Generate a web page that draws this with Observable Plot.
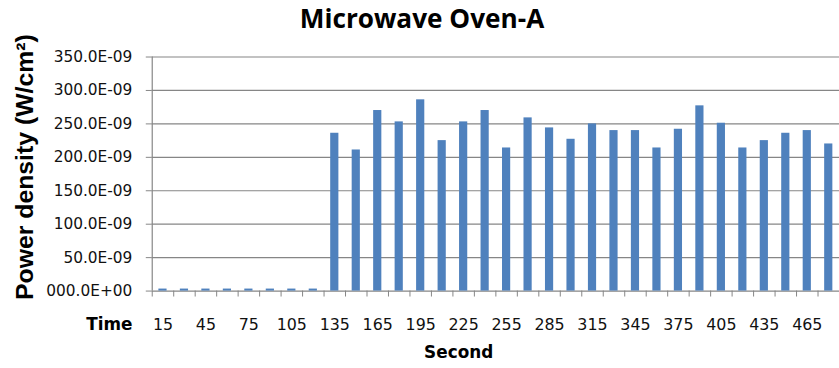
<!DOCTYPE html>
<html>
<head>
<meta charset="utf-8">
<script src="https://cdn.jsdelivr.net/npm/d3@7"></script>
<script src="https://cdn.jsdelivr.net/npm/@observablehq/plot@0.6"></script>
<style>
  html, body { margin: 0; padding: 0; background: #fff; overflow: hidden; }
  #chart { width: 839px; height: 368px; overflow: hidden; }
  #chart svg { display: block; }
</style>
</head>
<body>
<div id="chart"></div>
<script>
// Sampling times (s) and measured power density, in units of 1E-09 W/cm²
const seconds = [15, 30, 45, 60, 75, 90, 105, 120, 135, 150, 165, 180, 195, 210, 225, 240,
                 255, 270, 285, 300, 315, 330, 345, 360, 375, 390, 405, 420, 435, 450, 465, 480];
const powerDensity = [3, 3, 3, 3, 3, 3, 3, 3, 236, 211, 270, 253, 286, 225, 253, 270,
                      214, 259, 244, 227, 250, 240, 240, 214, 242, 277, 251, 214, 225, 236, 240, 220];

// Axis ticks and their labels
const yTicks = [0, 50, 100, 150, 200, 250, 300, 350];
const yTickLabels = ["000.0E+00", "50.0E-09", "100.0E-09", "150.0E-09", "200.0E-09",
                     "250.0E-09", "300.0E-09", "350.0E-09"];
const xTickLabels = [15, 45, 75, 105, 135, 165, 195, 225, 255, 285, 315, 345, 375, 405, 435, 465];

const titleText = "Microwave Oven-A";
const yTitle = "Power density (W/cm²)";
const xPrefix = "Time";
const xTitle = "Second";

const interval = 15;
const data = seconds.map((t, i) => ({t, v: powerDensity[i]}));
// each sample occupies one 15 s slot; slot edges carry the tick marks
const edges = seconds.map(t => t - interval / 2).concat([seconds[seconds.length - 1] + interval / 2]);
const xDomain = [edges[0], edges[edges.length - 1]];

const grid = "#868686";
const ink = "#111";

const chart = Plot.plot({
  width: 846,
  height: 368,
  marginLeft: 153,
  marginRight: 0,
  marginTop: 57,
  marginBottom: 75,
  style: {fontFamily: "DejaVu Sans", fontSize: "15.5px", background: "#fff", color: ink},
  x: {type: "linear", domain: xDomain, axis: null},
  y: {domain: [0, 350], axis: null},
  marks: [
    // horizontal gridlines
    Plot.ruleY(yTicks, {stroke: grid, strokeWidth: 1.2}),
    // left axis line
    Plot.ruleX([xDomain[0]], {y1: 0, y2: 350, stroke: grid, strokeWidth: 1.2}),
    // y axis: outward ticks and labels
    Plot.axisY(yTicks, {
      anchor: "left", label: null, tickSize: 6, tickPadding: 14, stroke: grid, fill: ink,
      tickFormat: d => yTickLabels[yTicks.indexOf(d)],
      fontFamily: "DejaVu Sans", fontSize: 15.5
    }),
    // x axis: tick marks at slot edges
    Plot.axisX(edges, {anchor: "bottom", label: null, tickSize: 6, stroke: grid, tickFormat: () => ""}),
    // x axis: labels at every other slot centre
    Plot.axisX(xTickLabels, {
      anchor: "bottom", label: null, tickSize: 0, tickPadding: 28, fill: ink,
      tickFormat: d => String(d), fontFamily: "DejaVu Sans", fontSize: 16
    }),
    // bars
    Plot.rectY(data, {
      x1: d => d.t - interval / 2, x2: d => d.t + interval / 2, y: "v",
      insetLeft: 6.7, insetRight: 6.7, fill: "#4f81bd"
    }),
    // title
    Plot.text([titleText], {
      frameAnchor: "top", lineAnchor: "middle", dx: -74.5, dy: -38,
      fontFamily: "Open Sans", fontWeight: "bold", fontSize: 26.4, fill: "#000"
    }),
    // y axis title
    Plot.text([yTitle], {
      frameAnchor: "left", lineAnchor: "middle", rotate: -90, dx: -128, dy: -7, textAnchor: "middle",
      fontFamily: "Liberation Sans", fontWeight: "bold", fontSize: 25, fill: "#000"
    }),
    // "Time" prefix for the x labels
    Plot.text([xPrefix], {
      frameAnchor: "bottom-left", lineAnchor: "middle", dx: -20, dy: 34, textAnchor: "end",
      fontFamily: "DejaVu Sans", fontWeight: "bold", fontSize: 17, fill: "#000"
    }),
    // x axis title
    Plot.text([xTitle], {
      frameAnchor: "bottom", lineAnchor: "middle", dx: -37.5, dy: 62, textAnchor: "middle",
      fontFamily: "DejaVu Sans", fontWeight: "bold", fontSize: 17, fill: "#000"
    })
  ]
});

document.getElementById("chart").appendChild(chart);
</script>
</body>
</html>
